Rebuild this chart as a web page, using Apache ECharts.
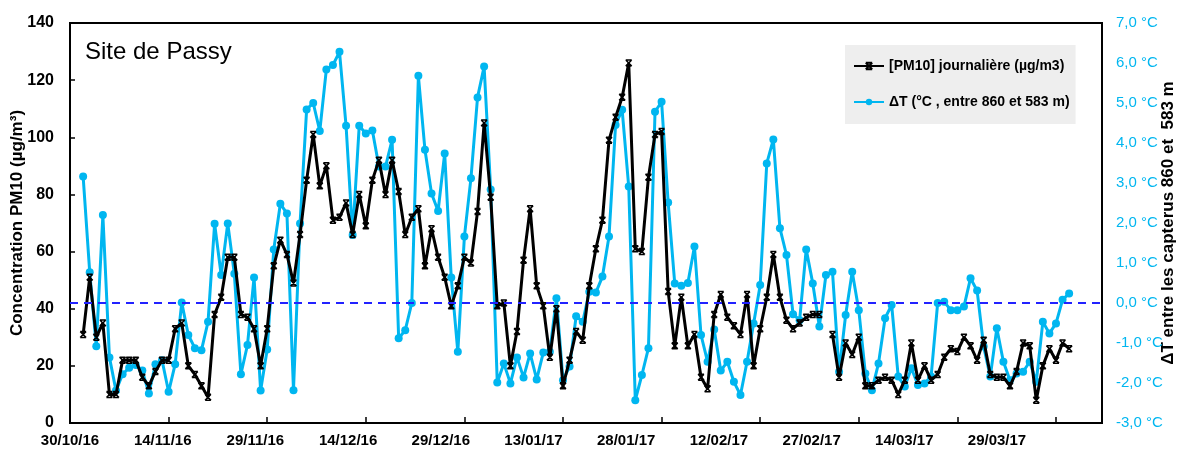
<!DOCTYPE html>
<html>
<head>
<meta charset="utf-8">
<script src="https://cdn.jsdelivr.net/npm/echarts@6/dist/echarts.min.js"></script>
<style>
  html, body { margin: 0; padding: 0; background: #fff; }
  #main { width: 1182px; height: 459px; }
</style>
</head>
<body>
<div id="main"></div>
<script>
// axe des dates : du 30/10/16, un point par jour
var startDate = new Date(2016, 9, 30)
var nbDays = 158
var firstDataDay = 2 // 01/11/16

// etiquettes de l'axe X (tous les 15 jours)
var dateLabels = ['30/10/16', '14/11/16', '29/11/16', '14/12/16', '29/12/16', '13/01/17',
  '28/01/17', '12/02/17', '27/02/17', '14/03/17', '29/03/17']

// [PM10] journaliere (µg/m3), du 01/11/16 au 31/03/17
var pm10 = [
  31, 51, 30, 35, 10, 10, 22, 22, 22, 16,
  13, 18, 22, 22, 33, 35, 20, 17, 13, 9,
  38, 44, 58, 58, 38, 37, 33, 20, 33, 55,
  64, 59, 49, 66, 85, 101, 83, 90, 71, 72,
  77, 66, 80, 69, 85, 92, 80, 92, 81, 66,
  72, 75, 55, 68, 58, 51, 41, 48, 58, 56,
  74, 105, 79, 41, 42, 20, 32, 57, 75, 48,
  41, 23, 40, 13, 22, 32, 29, 48, 61, 71,
  99, 107, 114, 126, 61, 60, 86, 101, 102, 46,
  27, 44, 27, 31, 16, 12, 38, 45, 37, 34,
  31, 45, 20, 33, 44, 59, 44, 36, 33, 35,
  37, 38, 38, null, 31, 16, 28, 24, 30, 13,
  13, 15, 16, 15, 10, 15, 28, 15, 20, 15,
  17, 23, 26, 25, 30, 27, 22, 29, 17, 16,
  16, 13, 18, 28, 27, 8, 20, 26, 22, 28,
  26
]

// ΔT (°C, entre 860 et 583 m)
var deltaT = [
  3.16, 0.77, -1.08, 2.2, -1.36, -2.19, -1.78, -1.62, -1.55, -1.69,
  -2.26, -1.53, -1.43, -2.22, -1.53, 0.01, -0.8, -1.13, -1.18, -0.47,
  1.98, 0.7, 1.99, 0.73, -1.78, -1.05, 0.64, -2.19, -1.16, 1.34,
  2.48, 2.24, -2.18, 1.99, 4.84, 5.0, 4.3, 5.84, 5.95, 6.28,
  4.43, 1.7, 4.43, 4.24, 4.31, 3.41, 3.41, 4.08, -0.88, -0.68,
  0.0, 5.68, 3.83, 2.74, 2.3, 3.74, 0.64, -1.22, 1.66, 3.12,
  5.14, 5.91, 2.84, -1.99, -1.51, -2.01, -1.36, -1.86, -1.26, -1.91,
  -1.24, -1.22, 0.12, -1.93, -1.59, -0.33, -0.47, 0.28, 0.26, 0.66,
  1.66, 4.45, 4.83, 2.91, -2.43, -1.8, -1.13, 4.78, 5.03, 2.51,
  0.49, 0.43, 0.5, 1.41, -0.8, -1.47, -0.66, -1.69, -1.47, -1.97,
  -2.3, -1.47, -0.51, 0.45, 3.49, 4.09, 1.87, 1.2, -0.28, -0.43,
  1.34, 0.49, -0.59, 0.7, 0.78, -1.72, -0.3, 0.78, -0.18, -1.76,
  -2.18, -1.51, -0.38, -0.05, -1.84, -2.09, -1.63, -2.05, -2.01, -1.84,
  0.0, 0.03, -0.18, -0.18, -0.09, 0.62, 0.31, -1.09, -1.84, -0.63,
  -1.47, -1.93, -1.76, -1.72, -1.47, -1.97, -0.47, -0.76, -0.51, 0.08,
  0.24
]

function pad(n) { return n < 10 ? '0' + n : '' + n }

var days = []
for (var i = 0; i < nbDays; i++) {
  var d = new Date(startDate.getFullYear(), startDate.getMonth(), startDate.getDate() + i)
  days.push(pad(d.getDate()) + '/' + pad(d.getMonth() + 1) + '/' + String(d.getFullYear()).slice(2))
}

function alignData(arr) {
  var out = []
  for (var i = 0; i < nbDays; i++) {
    var k = i - firstDataDay
    out.push(k >= 0 && k < arr.length ? arr[k] : null)
  }
  return out
}

var font = "'Liberation Sans', Arial, sans-serif"
var cyan = '#00b6f0'

// asterisque façon Excel
var starPath = 'path://M0,0L10,10M10,0L0,10M0,0L10,0M0,10L10,10'

var chart = echarts.init(document.getElementById('main'))

var option = {
  backgroundColor: '#fff',
  animation: false,
  title: {
    text: 'Site de Passy',
    left: 80,
    top: 35,
    textStyle: { fontFamily: font, fontSize: 24, fontWeight: 'normal', color: '#000' }
  },
  legend: {
    left: 845,
    top: 45,
    orient: 'vertical',
    backgroundColor: '#eeeeee',
    padding: [14, 6, 15, 8],
    itemGap: 22,
    itemWidth: 30,
    itemHeight: 8,
    textStyle: { fontFamily: font, fontSize: 14, fontWeight: 'bold', color: '#000' },
    data: ['[PM10] journalière (µg/m3)', 'ΔT (°C , entre 860 et 583 m)']
  },
  grid: {
    left: 70,
    right: 80,
    top: 23,
    bottom: 36,
    outerBoundsMode: 'none',
    containLabel: false,
    show: true,
    borderColor: '#000',
    borderWidth: 2
  },
  xAxis: [{
    type: 'category',
    data: days,
    boundaryGap: false,
    axisLine: { lineStyle: { color: '#000', width: 2 } },
    axisTick: { inside: true, interval: 14, length: 6, lineStyle: { color: '#000', width: 1.5 } },
    axisLabel: { show: false },
    splitLine: { show: false }
  }, {
    // etiquettes des dates
    type: 'value',
    position: 'bottom',
    min: 0,
    max: 1032 / 92.7,
    interval: 1,
    axisLine: { show: false },
    axisTick: { show: false },
    splitLine: { show: false },
    axisLabel: {
      margin: 10,
      fontFamily: font,
      fontSize: 15,
      fontWeight: 'bold',
      color: '#000',
      showMaxLabel: false,
      formatter: function (v) {
        return Math.abs(v - Math.round(v)) < 1e-6 && dateLabels[Math.round(v)] ? dateLabels[Math.round(v)] : ''
      }
    }
  }],
  yAxis: [{
    type: 'value',
    min: 0,
    max: 140,
    interval: 20,
    name: 'Concentration PM10 (µg/m³)',
    nameLocation: 'middle',
    nameGap: 44,
    nameMoveOverlap: false,
    nameTextStyle: { fontFamily: font, fontSize: 17, fontWeight: 'bold', color: '#000' },
    axisLine: { show: true, lineStyle: { color: '#000', width: 2 } },
    axisTick: { show: true, inside: true, length: 5, lineStyle: { color: '#000', width: 1.5 } },
    axisLabel: { margin: 16, fontFamily: font, fontSize: 16, fontWeight: 'bold', color: '#000' },
    splitLine: { show: false }
  }, {
    type: 'value',
    min: -3,
    max: 7,
    interval: 1,
    position: 'right',
    name: 'ΔT entre les capterus 860 et  583 m',
    nameLocation: 'middle',
    nameGap: 58,
    nameMoveOverlap: false,
    nameRotate: 90,
    nameTextStyle: { fontFamily: font, fontSize: 17, fontWeight: 'bold', color: '#000' },
    axisLine: { show: false },
    axisTick: { show: false },
    axisLabel: {
      margin: 14,
      fontFamily: font,
      fontSize: 15,
      color: cyan,
      formatter: function (v) { return v.toFixed(1).replace('.', ',') + ' °C' }
    },
    splitLine: { show: false }
  }],
  series: [{
    name: '[PM10] journalière (µg/m3)',
    type: 'line',
    xAxisIndex: 0,
    yAxisIndex: 0,
    data: alignData(pm10),
    symbol: starPath,
    symbolSize: 6,
    showAllSymbol: true,
    lineStyle: { color: '#000', width: 3 },
    itemStyle: { color: '#000', borderColor: '#000', borderWidth: 1.5 },
    z: 3
  }, {
    name: 'ΔT (°C , entre 860 et 583 m)',
    type: 'line',
    xAxisIndex: 0,
    yAxisIndex: 1,
    data: alignData(deltaT),
    symbol: 'circle',
    symbolSize: 8,
    showAllSymbol: true,
    lineStyle: { color: cyan, width: 3 },
    itemStyle: { color: cyan },
    z: 2,
    markLine: {
      silent: true,
      symbol: 'none',
      label: { show: false },
      lineStyle: { color: '#2222ff', type: [8, 6], width: 2 },
      data: [{ yAxis: 0 }]
    }
  }]
}

chart.setOption(option)
</script>
</body>
</html>
